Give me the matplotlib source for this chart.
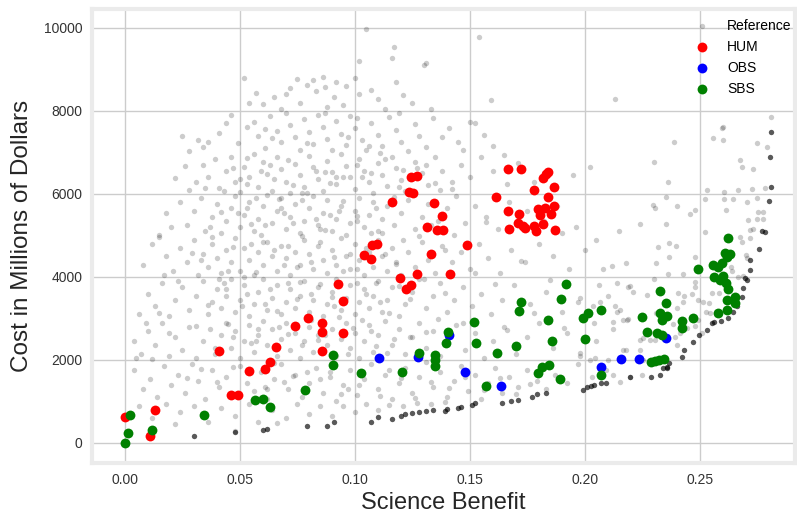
import matplotlib
matplotlib.use("Agg")
import matplotlib.pyplot as plt
import numpy as np

# --- reference designs (light cloud) ---
ref_top = [
    (0.105, 9970), (0.117, 9550), (0.116, 9270), (0.102, 9200), (0.130, 9110), (0.131, 9150),
    (0.154, 9790), (0.052, 8800), (0.075, 8760), (0.082, 8750), (0.086, 8830), (0.100, 8800),
    (0.118, 8706), (0.070, 8410), (0.065, 8345), (0.054, 8185), (0.060, 8160), (0.087, 8570),
    (0.079, 8620), (0.083, 8480), (0.091, 8345), (0.096, 8600), (0.107, 8505), (0.159, 8265),
    (0.092, 8700), (0.110, 8300), (0.113, 8050), (0.076, 8200), (0.072, 8560), (0.095, 8150),
    (0.102, 8420), (0.121, 8380), (0.125, 8200), (0.068, 8050), (0.088, 8090), (0.213, 8282),
    (0.133, 8050),
]
ref_7k = [
    (0.025, 7400), (0.032, 7300), (0.034, 7140), (0.036, 7260), (0.044, 7700), (0.049, 7220),
    (0.053, 7620), (0.056, 7740), (0.058, 7400), (0.061, 7100), (0.063, 7880), (0.066, 7520),
    (0.068, 7250), (0.070, 7960), (0.072, 7650), (0.074, 7380), (0.076, 7050), (0.078, 7800),
    (0.080, 7500), (0.082, 7200), (0.084, 7900), (0.086, 7620), (0.088, 7330), (0.090, 7060),
    (0.092, 7750), (0.094, 7450), (0.096, 7180), (0.098, 7880), (0.100, 7580), (0.103, 7300),
    (0.105, 7050), (0.107, 7720), (0.110, 7420), (0.112, 7150), (0.115, 7850), (0.118, 7550),
    (0.120, 7260), (0.123, 7030), (0.126, 7680), (0.128, 7400), (0.131, 7130), (0.134, 7820),
    (0.138, 7380), (0.141, 7600), (0.145, 7250), (0.150, 7740), (0.152, 7700), (0.147, 7050),
    (0.156, 7420), (0.160, 7150), (0.064, 7350), (0.087, 7960), (0.101, 7830), (0.119, 7940),
    (0.2388, 7260), (0.2594, 7582), (0.2600, 7300), (0.2558, 7342), (0.2807, 7863),
    (0.2746, 7220), (0.2790, 7140), (0.2601, 7607), (0.2300, 6779),
]
ref_6k = [
    (0.022, 6380), (0.028, 6100), (0.031, 6300), (0.034, 6700), (0.036, 6420), (0.039, 6850),
    (0.041, 6150), (0.044, 6560), (0.046, 6900), (0.048, 6300), (0.050, 6050), (0.052, 6650),
    (0.054, 6420), (0.056, 6960), (0.058, 6180), (0.060, 6760), (0.062, 6480), (0.064, 6080),
    (0.066, 6880), (0.068, 6600), (0.070, 6300), (0.072, 6020), (0.074, 6720), (0.076, 6450),
    (0.078, 6180), (0.080, 6920), (0.082, 6640), (0.084, 6360), (0.086, 6080), (0.088, 6800),
    (0.090, 6520), (0.092, 6240), (0.094, 6960), (0.096, 6680), (0.098, 6400), (0.100, 6120),
    (0.102, 6850), (0.104, 6560), (0.106, 6280), (0.108, 6030), (0.110, 6740), (0.112, 6460),
    (0.114, 6190), (0.116, 6900), (0.118, 6620), (0.120, 6340), (0.122, 6060), (0.126, 6780),
    (0.129, 6500), (0.132, 6220), (0.135, 6880), (0.138, 6560), (0.142, 6280), (0.146, 6700),
    (0.150, 6420), (0.155, 6900), (0.160, 6550), (0.166, 6250), (0.171, 6750), (0.195, 6460),
    (0.202, 6640), (0.047, 6620), (0.053, 6250), (0.059, 6550), (0.065, 6350), (0.071, 6820),
    (0.077, 6030), (0.083, 6560), (0.089, 6260), (0.095, 6420), (0.101, 6700), (0.107, 6500),
    (0.113, 6840), (0.119, 6170), (0.125, 6400), (0.131, 6700), (0.137, 6100),
    (0.2362, 6297), (0.2674, 6819), (0.2684, 6643), (0.2729, 6610), (0.2529, 6096),
    (0.2604, 6056), (0.2667, 6096), (0.2725, 6113), (0.2783, 6137),
]
ref_5k = [
    (0.015, 5000), (0.018, 5550), (0.024, 5800), (0.027, 5250), (0.030, 5600), (0.033, 5900),
    (0.035, 5100), (0.038, 5450), (0.040, 5750), (0.042, 5050), (0.044, 5350), (0.046, 5650),
    (0.048, 5950), (0.050, 5200), (0.052, 5500), (0.054, 5800), (0.056, 5100), (0.058, 5400),
    (0.060, 5700), (0.062, 5980), (0.064, 5300), (0.066, 5600), (0.068, 5900), (0.070, 5150),
    (0.072, 5450), (0.074, 5750), (0.076, 5050), (0.078, 5350), (0.080, 5650), (0.082, 5950),
    (0.084, 5250), (0.086, 5550), (0.088, 5850), (0.090, 5100), (0.092, 5400), (0.094, 5700),
    (0.096, 5000), (0.098, 5300), (0.100, 5600), (0.102, 5900), (0.104, 5200), (0.106, 5500),
    (0.108, 5800), (0.110, 5100), (0.112, 5400), (0.114, 5700), (0.117, 5250), (0.120, 5550),
    (0.123, 5850), (0.126, 5150), (0.129, 5450), (0.132, 5750), (0.136, 5350), (0.140, 5650),
    (0.144, 5950), (0.148, 5300), (0.152, 5700), (0.157, 5450), (0.162, 5150), (0.167, 5800),
    (0.175, 5600), (0.182, 5350), (0.190, 5050), (0.053, 5650), (0.061, 5250), (0.069, 5550),
    (0.077, 5850), (0.085, 5150), (0.093, 5600), (0.101, 5350), (0.109, 5650), (0.057, 5900),
    (0.073, 5300), (0.089, 5500),
    (0.2297, 5735), (0.2304, 5655), (0.2352, 5920), (0.2401, 5711), (0.2457, 5518),
    (0.2478, 5615), (0.2612, 5615), (0.2239, 5270), (0.2352, 5270), (0.2522, 5092),
    (0.2522, 5872), (0.2606, 5880), (0.2642, 5880), (0.2703, 5800), (0.2746, 5911),
    (0.2753, 5574), (0.2775, 5574), (0.2710, 5373), (0.2746, 5390), (0.2775, 5398),
    (0.2732, 5149), (0.2717, 5133),
]
ref_4k = [
    (0.008, 4300), (0.012, 4800), (0.015, 4960), (0.018, 4500), (0.021, 4150), (0.024, 4700),
    (0.027, 4350), (0.030, 4900), (0.032, 4050), (0.034, 4550), (0.036, 4250), (0.038, 4800),
    (0.040, 4450), (0.042, 4100), (0.044, 4650), (0.046, 4350), (0.048, 4950), (0.050, 4150),
    (0.052, 4700), (0.054, 4400), (0.056, 4050), (0.058, 4600), (0.060, 4300), (0.062, 4850),
    (0.064, 4500), (0.066, 4150), (0.068, 4750), (0.070, 4450), (0.072, 4050), (0.074, 4600),
    (0.076, 4300), (0.078, 4900), (0.080, 4550), (0.082, 4200), (0.084, 4750), (0.086, 4400),
    (0.088, 4100), (0.090, 4650), (0.092, 4300), (0.094, 4950), (0.096, 4500), (0.098, 4200),
    (0.100, 4800), (0.102, 4400), (0.104, 4050), (0.106, 4600), (0.108, 4250), (0.110, 4900),
    (0.112, 4500), (0.114, 4150), (0.116, 4700), (0.118, 4350), (0.120, 4050), (0.123, 4600),
    (0.126, 4250), (0.129, 4850), (0.132, 4400), (0.135, 4100), (0.138, 4750), (0.142, 4350),
    (0.146, 4600), (0.150, 4200), (0.154, 4800), (0.158, 4450), (0.163, 4100), (0.168, 4650),
    (0.174, 4350), (0.180, 4800), (0.186, 4500), (0.193, 4200), (0.200, 4650), (0.065, 4650),
    (0.075, 4250), (0.085, 4850), (0.095, 4150), (0.105, 4700), (0.055, 4800), (0.045, 4150),
    (0.2319, 4715), (0.2365, 4812), (0.2394, 4755), (0.2478, 4489), (0.2365, 4489),
    (0.2178, 4345), (0.2119, 4265), (0.2309, 4345), (0.2635, 4249), (0.2640, 4145),
    (0.2674, 4971), (0.2717, 4932), (0.2681, 4851), (0.2699, 4530), (0.2703, 4450),
    (0.2362, 4064), (0.2428, 4064), (0.2667, 4008), (0.2688, 4024),
]
ref_3k = [
    (0.006, 3100), (0.010, 3600), (0.013, 3300), (0.016, 3850), (0.019, 3050), (0.022, 3450),
    (0.025, 3750), (0.028, 3200), (0.031, 3550), (0.034, 3900), (0.036, 3100), (0.038, 3400),
    (0.040, 3700), (0.042, 3250), (0.044, 3550), (0.046, 3950), (0.048, 3150), (0.050, 3450),
    (0.052, 3800), (0.054, 3050), (0.056, 3350), (0.058, 3650), (0.060, 3950), (0.062, 3200),
    (0.064, 3500), (0.066, 3800), (0.068, 3100), (0.070, 3400), (0.072, 3700), (0.074, 3250),
    (0.076, 3550), (0.078, 3900), (0.080, 3150), (0.082, 3450), (0.084, 3750), (0.086, 3050),
    (0.088, 3350), (0.090, 3650), (0.092, 3950), (0.094, 3200), (0.096, 3500), (0.098, 3800),
    (0.100, 3100), (0.102, 3400), (0.104, 3700), (0.106, 3250), (0.108, 3550), (0.110, 3900),
    (0.112, 3150), (0.114, 3450), (0.116, 3750), (0.119, 3050), (0.122, 3350), (0.125, 3650),
    (0.128, 3950), (0.131, 3250), (0.134, 3550), (0.137, 3850), (0.140, 3150), (0.143, 3450),
    (0.147, 3750), (0.151, 3300), (0.155, 3600), (0.159, 3100), (0.164, 3450), (0.169, 3800),
    (0.176, 3350), (0.183, 3650), (0.190, 3150), (0.198, 3500), (0.206, 3800), (0.213, 3300),
    (0.221, 3650), (0.061, 3350), (0.071, 3850), (0.081, 3600), (0.091, 3300), (0.101, 3850),
    (0.111, 3400), (0.053, 3600), (0.043, 3850),
    (0.2140, 3848), (0.2188, 3767), (0.2196, 3791), (0.2268, 3566), (0.2406, 3607),
    (0.2430, 3550), (0.2464, 3583), (0.2478, 3767), (0.2552, 3607), (0.2581, 3607),
    (0.2036, 3301), (0.2065, 3405), (0.2138, 3164), (0.2152, 3205), (0.2399, 3245),
    (0.2428, 3390), (0.2493, 3446), (0.2514, 3405), (0.2540, 3381), (0.2309, 3125),
    (0.2525, 3164), (0.2543, 3140), (0.2300, 3944), (0.2478, 3888),
]
ref_2k = [
    (0.004, 2450), (0.007, 2150), (0.010, 2700), (0.013, 2350), (0.016, 2900), (0.019, 2100),
    (0.022, 2550), (0.025, 2250), (0.028, 2800), (0.031, 2050), (0.034, 2450), (0.037, 2750),
    (0.039, 2150), (0.042, 2600), (0.044, 2900), (0.046, 2300), (0.048, 2700), (0.050, 2050),
    (0.052, 2450), (0.054, 2850), (0.056, 2200), (0.058, 2600), (0.060, 2950), (0.062, 2350),
    (0.064, 2750), (0.066, 2100), (0.068, 2500), (0.070, 2900), (0.072, 2250), (0.074, 2650),
    (0.076, 2050), (0.078, 2450), (0.080, 2800), (0.082, 2200), (0.084, 2600), (0.086, 2950),
    (0.088, 2350), (0.090, 2750), (0.092, 2100), (0.094, 2500), (0.096, 2900), (0.098, 2300),
    (0.100, 2650), (0.102, 2050), (0.104, 2450), (0.106, 2850), (0.108, 2200), (0.110, 2600),
    (0.113, 2950), (0.116, 2350), (0.119, 2750), (0.122, 2150), (0.125, 2550), (0.128, 2900),
    (0.131, 2300), (0.134, 2700), (0.137, 2100), (0.140, 2500), (0.144, 2850), (0.148, 2250),
    (0.152, 2650), (0.156, 2050), (0.160, 2450), (0.165, 2800), (0.170, 2150), (0.175, 2550),
    (0.180, 2900), (0.186, 2300), (0.192, 2650), (0.198, 2100), (0.205, 2450), (0.212, 2750),
    (0.218, 2250), (0.057, 2450), (0.067, 2800), (0.077, 2350), (0.087, 2600), (0.097, 2150),
    (0.107, 2700), (0.047, 2550), (0.117, 2500),
    (0.2167, 2964), (0.2123, 2923), (0.2181, 2964), (0.2188, 2980), (0.2384, 2867),
    (0.2442, 2763), (0.2478, 2819), (0.2493, 2964), (0.2507, 2643), (0.2239, 2482),
    (0.2254, 2523), (0.2283, 2482), (0.2304, 2482), (0.2391, 2561), (0.2399, 2361),
    (0.2413, 2643), (0.1978, 2161), (0.2022, 2000), (0.2043, 2041), (0.2101, 2000),
    (0.2167, 2241), (0.2239, 2241), (0.2254, 2000),
]
ref_1k = [
    (0.004, 1750), (0.008, 1300), (0.011, 1550), (0.014, 1100), (0.017, 1850), (0.020, 1400),
    (0.023, 1650), (0.026, 1200), (0.029, 1900), (0.032, 1500), (0.035, 1050), (0.038, 1750),
    (0.041, 1350), (0.044, 1600), (0.047, 1150), (0.050, 1850), (0.053, 1450), (0.056, 1250),
    (0.059, 1700), (0.062, 1050), (0.065, 1550), (0.068, 1900), (0.071, 1300), (0.074, 1650),
    (0.077, 1100), (0.080, 1450), (0.083, 1800), (0.086, 1200), (0.089, 1600), (0.092, 1000),
    (0.095, 1400), (0.098, 1750), (0.101, 1150), (0.104, 1550), (0.107, 1900), (0.110, 1300),
    (0.113, 1650), (0.116, 1050), (0.119, 1450), (0.122, 1800), (0.125, 1200), (0.128, 1600),
    (0.131, 1950), (0.134, 1350), (0.137, 1700), (0.140, 1100), (0.143, 1500), (0.146, 1850),
    (0.149, 1250), (0.152, 1650), (0.155, 1050), (0.158, 1450), (0.161, 1800), (0.164, 1200),
    (0.167, 1600), (0.171, 1350), (0.175, 1750), (0.179, 1500), (0.183, 1300), (0.187, 1650),
    (0.192, 1450), (0.197, 1900), (0.203, 1600), (0.209, 1750), (0.2123, 1639), (0.2152, 1478),
    (0.2196, 1598), (0.2246, 1639), (0.061, 1350), (0.079, 1700), (0.097, 1300), (0.115, 1750),
]
ref_0k = [
    (0.006, 900), (0.012, 600), (0.018, 950), (0.024, 750), (0.030, 900), (0.036, 500),
    (0.042, 850), (0.048, 650), (0.054, 950), (0.058, 500), (0.064, 800), (0.070, 600),
    (0.075, 950), (0.080, 700), (0.085, 880), (0.090, 650), (0.095, 900), (0.100, 750),
    (0.105, 950), (0.110, 800), (0.115, 920), (0.121, 880), (0.127, 960), (0.133, 940),
    (0.139, 980), (0.048, 300), (0.022, 450), (0.066, 480),
]
# extra points where the cloud is densest (x 0.03-0.14)
ref_core = [
    (0.033, 4420), (0.037, 5210), (0.041, 3960), (0.043, 6080), (0.045, 2870), (0.047, 4730),
    (0.049, 5530), (0.051, 3290), (0.053, 6870), (0.055, 2410), (0.057, 4110), (0.059, 5010),
    (0.061, 7560), (0.063, 3720), (0.065, 1920), (0.067, 5880), (0.069, 4290), (0.071, 2630),
    (0.073, 6210), (0.075, 3460), (0.077, 4980), (0.079, 7230), (0.081, 2960), (0.083, 5390),
    (0.085, 3830), (0.087, 6540), (0.089, 1720), (0.091, 4470), (0.093, 3040), (0.095, 5820),
    (0.097, 7370), (0.099, 2780), (0.101, 4190), (0.103, 6410), (0.105, 3580), (0.107, 5070),
    (0.109, 2340), (0.111, 6990), (0.113, 4560), (0.115, 3120), (0.117, 5930), (0.119, 3790),
    (0.121, 4880), (0.124, 2560), (0.127, 6630), (0.130, 3940), (0.133, 5260), (0.136, 2990),
    (0.139, 4650), (0.142, 6120), (0.036, 3330), (0.039, 2290), (0.042, 5560), (0.044, 3720),
    (0.047, 1830), (0.050, 6360), (0.052, 4010), (0.055, 5270), (0.058, 2740), (0.060, 4850),
    (0.063, 6690), (0.066, 3170), (0.068, 5660), (0.071, 4740), (0.073, 1610), (0.076, 3890),
    (0.079, 6020), (0.081, 4370), (0.084, 2480), (0.087, 5130), (0.090, 3510), (0.092, 6410),
    (0.095, 2620), (0.098, 4560), (0.101, 5480), (0.103, 2960), (0.106, 7160), (0.109, 3860),
    (0.112, 5050), (0.114, 2160), (0.118, 4310), (0.121, 6570), (0.124, 3460), (0.128, 4990),
    (0.131, 2670), (0.135, 6260), (0.139, 3610), (0.143, 5010), (0.147, 2890), (0.152, 4100),
    (0.157, 5330), (0.161, 3820), (0.166, 2720), (0.172, 4380), (0.178, 3140), (0.185, 3920),
    (0.191, 2760), (0.197, 3400), (0.204, 2880), (0.210, 3550), (0.012, 2020), (0.015, 3120),
    (0.019, 2640), (0.023, 3910), (0.027, 1560), (0.029, 4570), (0.031, 2830), (0.033, 1790),
    (0.035, 6150), (0.038, 4970), (0.040, 1480), (0.020, 5200), (0.026, 6680), (0.017, 4050),
    (0.009, 2900), (0.005, 2050), (0.028, 7030), (0.041, 7480), (0.046, 7900), (0.057, 8440),
    (0.062, 1290), (0.069, 1480), (0.078, 1220), (0.085, 1540), (0.094, 1180), (0.102, 1390),
    (0.111, 1120), (0.120, 1560), (0.126, 1080), (0.133, 1470), (0.141, 1320), (0.148, 1600),
    (0.156, 1270), (0.163, 1560), (0.170, 1190), (0.176, 1420), (0.165, 6950), (0.178, 6300),
    (0.188, 5700), (0.196, 5200), (0.205, 4900), (0.215, 5100), (0.208, 4200),
]

# --- lower-cost edge of the reference cloud (dark, overlapping points) ---
ref_edge = [
    (0.030, 170), (0.048, 272), (0.060, 313), (0.062, 345), (0.079, 410), (0.088, 410),
    (0.091, 510), (0.107, 514), (0.110, 634), (0.116, 571), (0.120, 651), (0.122, 691),
    (0.125, 715), (0.128, 747), (0.131, 771), (0.134, 795), (0.139, 779), (0.140, 812),
    (0.145, 836), (0.146, 860), (0.151, 916), (0.152, 956), (0.164, 956), (0.168, 1020),
    (0.171, 1036), (0.177, 1116), (0.179, 1181), (0.183, 1197), (0.199, 1277), (0.201, 1357),
    (0.204, 1390), (0.207, 1438), (0.209, 1453), (0.2025, 1373), (0.2196, 1583), (0.2286, 1583),
    (0.2326, 1639), (0.2341, 1799), (0.2355, 1839), (0.2358, 1815), (0.2367, 1920),
    (0.2420, 2080), (0.2430, 2241), (0.2471, 2441), (0.2497, 2602), (0.2529, 2723),
    (0.2551, 2884), (0.2561, 2923), (0.2590, 2950), (0.2620, 3000), (0.2645, 3150),
    (0.2660, 3300), (0.2681, 3526), (0.2688, 3727), (0.2696, 3968), (0.2703, 3928),
    (0.2717, 4169), (0.2717, 4410), (0.2758, 4667), (0.2783, 5092), (0.2772, 5116),
    (0.2801, 5831), (0.2807, 6177), (0.2804, 6884), (0.2811, 7486),
]

# --- architectures ---
hum_x = [0.000, 0.011, 0.013, 0.041, 0.046, 0.049, 0.054, 0.061, 0.063, 0.0655,
         0.074, 0.0796, 0.0857, 0.0857, 0.0857, 0.0925, 0.0949, 0.0949, 0.1039, 0.1068,
         0.1074, 0.1097, 0.116, 0.1196, 0.1222, 0.1246, 0.1235, 0.1254, 0.1242, 0.1271,
         0.1271, 0.1314, 0.1332, 0.1345, 0.1358, 0.1381, 0.1377, 0.1413, 0.1486, 0.1612,
         0.1667, 0.1722, 0.1829, 0.1819, 0.1841, 0.1865, 0.1778, 0.1839, 0.1667, 0.1797,
         0.1826, 0.1865, 0.1804, 0.1714, 0.1851, 0.1710, 0.1732, 0.1668, 0.1778, 0.1787,
         0.1816, 0.1870, 0.1739]
hum_y = [620, 170, 790, 2220, 1160, 1160, 1745, 1775, 1950, 2320,
         2810, 3010, 2880, 2665, 2220, 3840, 3420, 2643, 4520, 4440,
         4765, 4795, 5815, 3975, 3720, 3815, 6056, 6016, 6402, 6441,
         4072, 5198, 4546, 5783, 5133, 5133, 5477, 4072, 4763, 5920,
         6602, 6602, 6475, 6378, 6523, 6161, 6104, 5920, 5590, 5631,
         5655, 5718, 5494, 5511, 5511, 5294, 5229, 5157, 5237, 5108,
         5270, 5133, 5173]

obs_x = [0.1104, 0.1275, 0.1407, 0.1478, 0.1635, 0.2068, 0.2159, 0.2235, 0.2352]
obs_y = [2056, 2080, 2595, 1703, 1373, 1830, 2024, 2024, 2523]

sbs_x = [0.000, 0.0014, 0.0022, 0.012, 0.0345, 0.0565, 0.060, 0.063, 0.0784, 0.0906,
         0.0906, 0.1025, 0.1203, 0.1278, 0.1349, 0.1349, 0.1349, 0.1406, 0.1394, 0.1517,
         0.1525, 0.1572, 0.1616, 0.1699, 0.1714, 0.1720, 0.1797, 0.1814, 0.1846, 0.1893,
         0.1839, 0.1855, 0.1894, 0.1919, 0.1993, 0.2012, 0.1999, 0.2072, 0.2068, 0.2246,
         0.2271, 0.2326, 0.2352, 0.2326, 0.2333, 0.2358, 0.2314, 0.2333, 0.2286, 0.2304,
         0.2323, 0.2343, 0.2420, 0.2420, 0.2468, 0.2493, 0.2555, 0.2580, 0.2594, 0.2623,
         0.2609, 0.2630, 0.2616, 0.2562, 0.2601, 0.2587, 0.2613, 0.2623, 0.2616, 0.2652,
         0.2652, 0.2580, 0.2616]
sbs_y = [0, 235, 685, 315, 685, 1035, 1068, 860, 1277, 2130,
         1880, 1680, 1710, 2160, 2120, 2000, 1855, 2675, 2400, 2915,
         2400, 1373, 2160, 2330, 3190, 3400, 1680, 1840, 1887, 1542,
         2964, 2466, 3462, 3831, 3004, 3141, 2499, 3205, 1639, 3043,
         2675, 3655, 3366, 3140, 2964, 3067, 2643, 2602, 1945, 1976,
         2000, 2032, 2940, 2763, 3020, 4200, 4282, 4249, 4345, 4932,
         4586, 4546, 4489, 4008, 4024, 3928, 3848, 3704, 3446, 3526,
         3366, 3140, 3205]

x_ticks = [0.00, 0.05, 0.10, 0.15, 0.20, 0.25]
y_ticks = [0, 2000, 4000, 6000, 8000, 10000]

plt.rcParams["font.family"] = ["Liberation Sans", "DejaVu Sans"]

ref = np.array(ref_top + ref_7k + ref_6k + ref_5k + ref_4k + ref_3k + ref_2k
               + ref_1k + ref_0k + ref_core)
edge = np.array(ref_edge)

fig = plt.figure(figsize=(7.97, 5.15), dpi=100)
ax = fig.add_axes([0.1154, 0.101, 0.882, 0.8816])

ax.scatter(ref[:, 0], ref[:, 1], s=15, color="k", alpha=0.2, linewidths=0, label="Reference", zorder=2)
ax.scatter(edge[:, 0], edge[:, 1], s=15, color="k", alpha=0.65, linewidths=0, zorder=2)
ax.scatter(hum_x, hum_y, s=50, color="red", linewidths=0, label="HUM", zorder=3)
ax.scatter(obs_x, obs_y, s=50, color="blue", linewidths=0, label="OBS", zorder=3)
ax.scatter(sbs_x, sbs_y, s=50, color="green", linewidths=0, label="SBS", zorder=3)

ax.set_xlim(-0.0143, 0.2913)
ax.set_ylim(-482, 10458)
ax.set_xticks(x_ticks)
ax.set_xticklabels([f"{t:.2f}" for t in x_ticks])
ax.set_yticks(y_ticks)
ax.grid(True, color="#cccccc", linewidth=1.0, zorder=0)
ax.set_axisbelow(True)
ax.tick_params(length=0, labelsize=10, labelcolor="#333333", pad=7)
for sp in ax.spines.values():
    sp.set_color("#ebebeb")
    sp.set_linewidth(3)

ax.set_xlabel("Science Benefit", fontsize=17, color="#262626", labelpad=4)
ax.set_ylabel("Cost in Millions of Dollars", fontsize=17.5, color="#262626", labelpad=8)

ax.legend(loc="upper right", frameon=False, fontsize=10, scatterpoints=1,
          bbox_to_anchor=(1.003, 0.99), borderaxespad=0.0)

fig.savefig("out.png", dpi=100)
